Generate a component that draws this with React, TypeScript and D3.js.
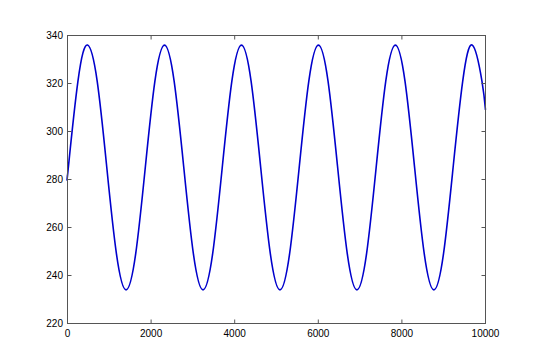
import React from "react";
import * as d3 from "d3";

// Key points (extremes, crossings and eighth-period points)
const xValues = [0, 20, 250, 480, 710, 940, 1171, 1401, 1631, 1861, 2091, 2321, 2551, 2782, 3012, 3242, 3472, 3702, 3932, 4162, 4392, 4622, 4853, 5083, 5313, 5543, 5773, 6003, 6233, 6463, 6694, 6924, 7154, 7384, 7614, 7844, 8074, 8304, 8535, 8765, 8995, 9225, 9455, 9685, 9915, 10000];
const yValues = [282, 285, 321, 336, 321, 285, 249, 234, 249, 285, 321, 336, 321, 285, 249, 234, 249, 285, 321, 336, 321, 285, 249, 234, 249, 285, 321, 336, 321, 285, 249, 234, 249, 285, 321, 336, 321, 285, 249, 234, 249, 285, 321, 336, 321, 309];
const xTicks = [0, 2000, 4000, 6000, 8000, 10000];
const yTicks = [220, 240, 260, 280, 300, 320, 340];

const W = 540, H = 360;
const L = 67.5, R = 485.5, T = 35.5, B = 323.5;

export default function App() {
  const x = d3.scaleLinear().domain([0, 10000]).range([L, R]);
  const y = d3.scaleLinear().domain([220, 340]).range([B, T]);
  const pts: [number, number][] = xValues.map((v, i) => [v, yValues[i]]);
  const line = d3.line<[number, number]>().x(d => x(d[0])).y(d => y(d[1])).curve(d3.curveNatural);
  const frame = "#555";
  const font = "'Liberation Sans', Arial, sans-serif";
  return (
    <svg width={W} height={H} style={{ position: "absolute", left: 0, top: 0, background: "#fff" }}>
      <rect x={0} y={0} width={W} height={H} fill="#fff" />
      <path d={line(pts) || ""} fill="none" stroke="#0000cc" strokeWidth={1.6} />
      <rect x={L} y={T} width={R - L} height={B - T} fill="none" stroke={frame} strokeWidth={1} />
      {xTicks.map(t => (
        <g key={"x" + t}>
          <line x1={x(t)} x2={x(t)} y1={B} y2={B - 4} stroke={frame} />
          <line x1={x(t)} x2={x(t)} y1={T} y2={T + 4} stroke={frame} />
          <text x={x(t)} y={B + 13} textAnchor="middle" fontSize={10} fontFamily={font} fill="#000">{t}</text>
        </g>
      ))}
      {yTicks.map(t => (
        <g key={"y" + t}>
          <line x1={L} x2={L + 4} y1={y(t)} y2={y(t)} stroke={frame} />
          <line x1={R} x2={R - 4} y1={y(t)} y2={y(t)} stroke={frame} />
          <text x={L - 4.5} y={y(t) + 3.5} textAnchor="end" fontSize={10} fontFamily={font} fill="#000">{t}</text>
        </g>
      ))}
    </svg>
  );
}
